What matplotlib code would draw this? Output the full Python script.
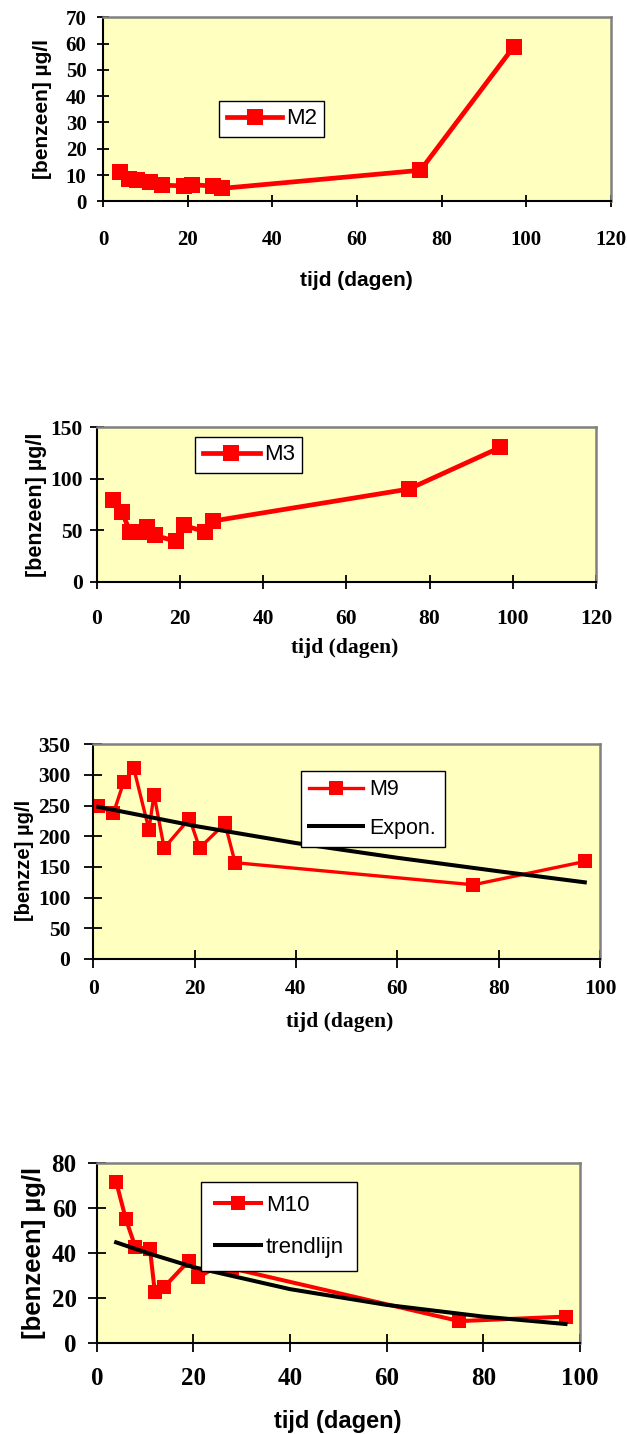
import matplotlib
matplotlib.use("Agg")
import matplotlib.pyplot as plt

# benzeen concentraties per meetpunt (dagen / ug/l)
m2_days = [4, 6, 8, 11, 14, 19, 21, 26, 28, 75, 97]
m2_vals = [11.0, 8.5, 8.2, 7.2, 6.1, 5.9, 6.3, 5.8, 4.9, 11.8, 58.7]

m3_days = [4, 6, 8, 11, 12, 14, 19, 21, 26, 28, 75, 97]
m3_vals = [78.9, 68, 48.6, 48, 53, 44.9, 39.3, 54.6, 48.6, 59, 90, 130.5]

m9_days = [1, 4, 6, 8, 11, 12, 14, 19, 21, 26, 28, 75, 97]
m9_vals = [249, 238, 288, 311, 211, 268, 181, 229, 181, 221, 157, 121, 159]
m9_trend_days = [1, 20, 40, 60, 80, 97]
m9_trend_vals = [248, 217, 189, 165, 143, 125]

m10_days = [4, 6, 8, 11, 12, 14, 19, 21, 26, 28, 75, 97]
m10_vals = [71.6, 55, 42.4, 41.7, 22.7, 24.9, 36.3, 29.2, 35, 33, 9.6, 11.6]
m10_trend_days = [4, 11, 20, 40, 60, 80, 97]
m10_trend_vals = [44.6, 39.5, 33.6, 23.8, 16.8, 11.6, 8.3]

W, H = 627, 1434
fig = plt.figure(figsize=(W / 100, H / 100), dpi=100)
fig.patch.set_facecolor("white")

SANS = "Liberation Sans"
SERIF = "Liberation Serif"
BG = "#FFFFC0"
RED = "#FF0000"


def panel(left, right, top, bottom):
    ax = fig.add_axes([left / W, 1 - bottom / H, (right - left) / W, (bottom - top) / H])
    ax.set_facecolor(BG)
    for s in ["left", "bottom"]:
        ax.spines[s].set_color("black")
        ax.spines[s].set_linewidth(1.5)
    for s in ["top", "right"]:
        ax.spines[s].set_color("#808080")
        ax.spines[s].set_linewidth(1.8)
    return ax


def style_ticks(ax, size, ticklen, xpad, ypad):
    ax.tick_params(direction="inout", length=ticklen, width=1.3, color="black")
    ax.tick_params(axis="x", pad=xpad)
    ax.tick_params(axis="y", pad=ypad)
    for lbl in ax.get_xticklabels() + ax.get_yticklabels():
        lbl.set_fontfamily(SERIF)
        lbl.set_fontweight("bold")
        lbl.set_fontsize(size)


def labels(ax, xlabel, ylabel, xfam, xsize, ysize, xpos, ypos):
    ax.set_xlabel(xlabel, fontfamily=xfam, fontweight="bold", fontsize=xsize)
    ax.set_ylabel(ylabel, fontfamily=SANS, fontweight="bold", fontsize=ysize)
    ax.xaxis.set_label_coords(*xpos)
    ax.yaxis.set_label_coords(*ypos)
    ax.xaxis.label.set_verticalalignment("center")
    ax.yaxis.label.set_verticalalignment("center")


def legend(ax, x, y, size, spacing, hlen, tpad, bpad):
    leg = ax.legend(loc="upper left", bbox_to_anchor=(x / W, 1 - y / H),
                    bbox_transform=fig.transFigure, borderaxespad=0,
                    fancybox=False, framealpha=1, edgecolor="black",
                    prop={"family": SANS, "size": size}, labelspacing=spacing,
                    handlelength=hlen, handletextpad=tpad, borderpad=bpad)
    leg.get_frame().set_linewidth(1.0)
    return leg


# ---- M2 ----
ax1 = panel(103.2, 610.8, 17.3, 201.3)
ax1.plot(m2_days, m2_vals, color=RED, lw=3.4, marker="s", ms=11, mew=0, label="M2")
ax1.set_xlim(0, 120)
ax1.set_ylim(0, 70)
ax1.set_xticks(range(0, 121, 20))
ax1.set_yticks(range(0, 71, 10))
style_ticks(ax1, 15, 8, 17, 8)
labels(ax1, "tijd (dagen)", "[benzeen] µg/l", SANS, 15, 15, (0.498, -0.428), (-0.12, 0.5))
legend(ax1, 219, 100.7, 16, 0.5, 2.5, 0.15, 0.35)

# ---- M3 ----
ax2 = panel(96.8, 596, 427.3, 581.7)
ax2.plot(m3_days, m3_vals, color=RED, lw=3.4, marker="s", ms=11, mew=0, label="M3")
ax2.set_xlim(0, 120)
ax2.set_ylim(0, 150)
ax2.set_xticks(range(0, 121, 20))
ax2.set_yticks(range(0, 151, 50))
style_ticks(ax2, 15.5, 10, 15, 5)
labels(ax2, "tijd (dagen)", "[benzeen] µg/l", SERIF, 15.5, 15.5, (0.497, -0.43), (-0.12, 0.5))
legend(ax2, 194.8, 436.7, 16, 0.5, 2.6, 0.15, 0.35)

# ---- M9 ----
ax3 = panel(93.2, 600, 744.3, 959)
ax3.plot(m9_days, m9_vals, color=RED, lw=2.4, marker="s", ms=9.6, mew=0, label="M9")
ax3.plot(m9_trend_days, m9_trend_vals, color="black", lw=2.9, label="Expon.")
ax3.set_xlim(0, 100)
ax3.set_ylim(0, 350)
ax3.set_xticks(range(0, 101, 20))
ax3.set_yticks(range(0, 351, 50))
style_ticks(ax3, 15.5, 13, 8, 10)
labels(ax3, "tijd (dagen)", "[benzze] µg/l", SERIF, 15.5, 14.5, (0.487, -0.293), (-0.136, 0.461))
legend(ax3, 300.8, 770.7, 15.5, 0.8, 2.5, 0.3, 0.4)

# ---- M10 ----
ax4 = panel(96.8, 580, 1162.7, 1342.7)
ax4.plot(m10_days, m10_vals, color=RED, lw=2.9, marker="s", ms=10.3, mew=0, label="M10")
ax4.plot(m10_trend_days, m10_trend_vals, color="black", lw=2.9, label="trendlijn")
ax4.set_xlim(0, 100)
ax4.set_ylim(0, 80)
ax4.set_xticks(range(0, 101, 20))
ax4.set_yticks(range(0, 81, 20))
style_ticks(ax4, 18, 13, 11, 8)
labels(ax4, "tijd (dagen)", "[benzeen] µg/l", SANS, 17, 18.5, (0.499, -0.438), (-0.13, 0.5))
legend(ax4, 201.2, 1181.7, 16, 0.95, 2.1, 0.2, 0.6)

fig.savefig("out.png", dpi=100)
